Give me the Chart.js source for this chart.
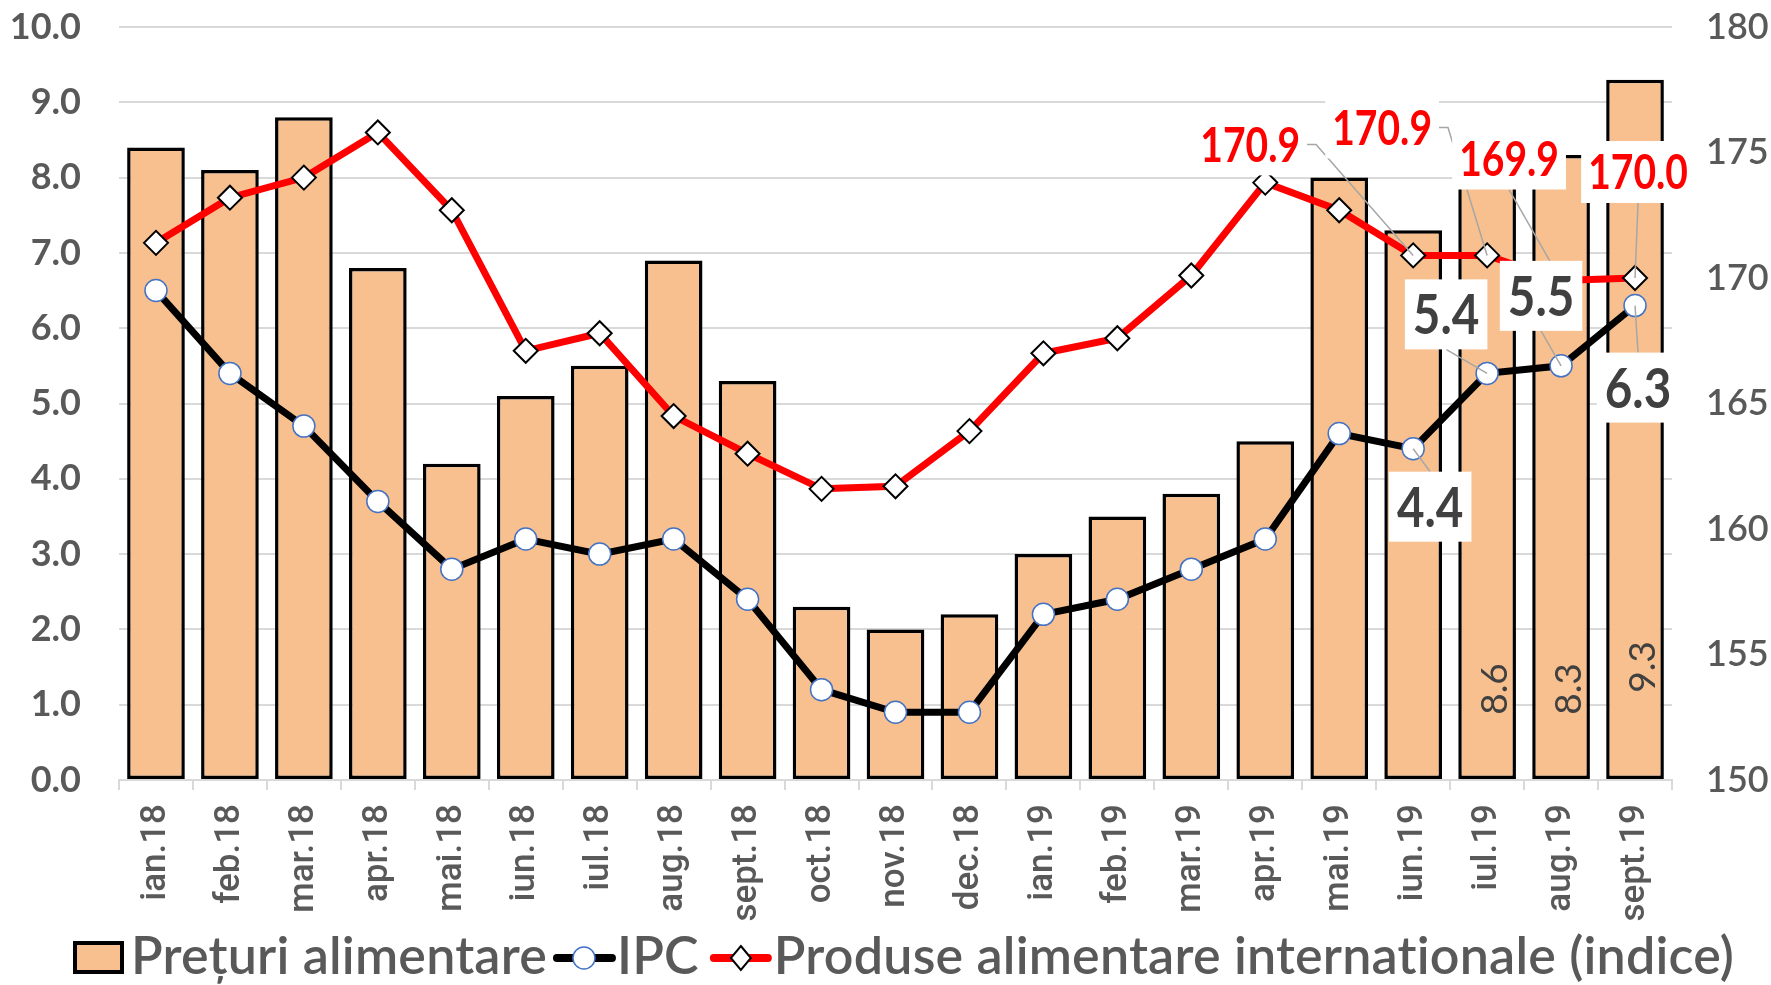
<!DOCTYPE html>
<html><head><meta charset="utf-8">
<script src="https://cdn.jsdelivr.net/npm/chart.js@4.4.1/dist/chart.umd.min.js"></script>
<style>html,body{margin:0;padding:0;background:#fff;overflow:hidden}#wrap{width:1771px;height:985px}</style>
</head><body><div id="wrap"><canvas id="c" width="1771" height="985"></canvas></div>
<script>
// ---------- data ----------
const categories = ['ian.18','feb.18','mar.18','apr.18','mai.18','iun.18','iul.18','aug.18','sept.18','oct.18','nov.18','dec.18','ian.19','feb.19','mar.19','apr.19','mai.19','iun.19','iul.19','aug.19','sept.19'];
const seriesNames = ['Prețuri alimentare','IPC','Produse alimentare internationale (indice)'];
const foodPrices = [8.4,8.1,8.8,6.8,4.2,5.1,5.5,6.9,5.3,2.3,2.0,2.2,3.0,3.5,3.8,4.5,8.0,7.3,8.6,8.3,9.3];
const cpi = [6.5,5.4,4.7,3.7,2.8,3.2,3.0,3.2,2.4,1.2,0.9,0.9,2.2,2.4,2.8,3.2,4.6,4.4,5.4,5.5,6.3];
const intlFoodIndex = [171.4,173.2,174.0,175.8,172.7,167.1,167.8,164.5,163.0,161.6,161.7,163.9,167.0,167.6,170.1,173.8,172.7,170.9,170.9,169.9,170.0];
const leftAxisRange = [0, 10, 1];
const rightAxisRange = [150, 180, 5];
const labelledBars = [18, 19, 20];
const labelledCpi = [17, 18, 19, 20];
const labelledIntl = [17, 18, 19, 20];

const FONT = 'Lato, "Liberation Sans", sans-serif';
const GREY = '#595959';
const BAR_FILL = '#F8C08E';

// ---------- label plugin ----------
const labelPlugin = {
  id: 'customLabels',
  afterDatasetsDraw(chart, args, opts) {
    const ctx = chart.ctx;
    const barMeta = chart.getDatasetMeta(0);
    opts.bars.forEach(b => {
      const el = barMeta.data[b.index];
      const val = chart.data.datasets[0].data[b.index];
      ctx.save();
      ctx.translate(el.x + b.dx, el.base - b.rise);
      ctx.rotate(-Math.PI / 2);
      ctx.font = opts.barFont;
      ctx.fillStyle = '#404040';
      ctx.textAlign = 'center';
      ctx.textBaseline = 'middle';
      ctx.fillText(val.toFixed(1), 0, 0);
      ctx.restore();
    });
    const items = opts.points.map(p => {
      const ds = chart.data.datasets[p.dataset];
      const el = chart.getDatasetMeta(p.dataset).data[p.index];
      const text = ds.data[p.index].toFixed(1);
      ctx.font = p.font;
      const w = ctx.measureText(text).width * p.scaleX;
      const cx = el.x + p.dx, cy = el.y + p.dy;
      const bw = w + 2 * p.padX, bh = p.boxH;
      return {text, font: p.font, color: p.color, sx: p.scaleX, cx, cy, px: el.x, py: el.y,
        l: cx - bw / 2, r: cx + bw / 2, t: cy - bh / 2, b: cy + bh / 2};
    });
    ctx.save();
    ctx.strokeStyle = '#A6A6A6';
    ctx.lineWidth = 1.5;
    items.forEach(it => {
      ctx.beginPath();
      if (it.px > it.r + 15) {
        ctx.moveTo(it.r, it.cy); ctx.lineTo(it.r + 9, it.cy); ctx.lineTo(it.px, it.py);
      } else if (it.px < it.l - 15) {
        ctx.moveTo(it.l, it.cy); ctx.lineTo(it.l - 9, it.cy); ctx.lineTo(it.px, it.py);
      } else if (it.py > it.b) {
        ctx.moveTo(it.cx, it.b); ctx.lineTo(it.px, it.py);
      } else {
        ctx.moveTo(it.cx, it.t); ctx.lineTo(it.px, it.py);
      }
      ctx.stroke();
    });
    ctx.restore();
    items.forEach(it => {
      ctx.save();
      ctx.fillStyle = '#FFFFFF';
      ctx.fillRect(it.l, it.t, it.r - it.l, it.b - it.t);
      ctx.translate(it.cx, it.cy + 2);
      ctx.scale(it.sx, 1);
      ctx.font = it.font;
      ctx.fillStyle = it.color;
      ctx.textAlign = 'center';
      ctx.textBaseline = 'middle';
      ctx.fillText(it.text, 0, 0);
      ctx.restore();
    });
  }
};

// ---------- legend plugin ----------
const legendPlugin = {
  id: 'customLegend',
  afterDraw(chart, args, opts) {
    const ctx = chart.ctx;
    const names = chart.data.datasets.map(d => d.label);
    const base = opts.baseline, mid = opts.mid;
    let x = opts.x;
    ctx.save();
    ctx.font = opts.font;
    if ('letterSpacing' in ctx) ctx.letterSpacing = '0.2px';
    ctx.textBaseline = 'alphabetic';
    ctx.textAlign = 'left';
    ctx.fillStyle = BAR_FILL;
    ctx.fillRect(x, base - 33, 51, 33);
    ctx.strokeStyle = '#000'; ctx.lineWidth = 4;
    ctx.strokeRect(x + 2, base - 31, 47, 29);
    x += 51 + 7;
    ctx.fillStyle = GREY;
    ctx.fillText(names[0], x, base);
    x += ctx.measureText(names[0]).width + 6;
    ctx.lineCap = 'round';
    ctx.strokeStyle = '#000'; ctx.lineWidth = 8;
    ctx.beginPath(); ctx.moveTo(x + 4, mid); ctx.lineTo(x + 59, mid); ctx.stroke();
    ctx.beginPath(); ctx.arc(x + 31, mid, 11, 0, Math.PI * 2);
    ctx.fillStyle = '#fff'; ctx.fill();
    ctx.strokeStyle = '#4472C4'; ctx.lineWidth = 1.5; ctx.stroke();
    x += 64;
    ctx.fillStyle = GREY;
    ctx.fillText(names[1], x, base);
    x += ctx.measureText(names[1]).width + 11;
    ctx.strokeStyle = '#FF0000'; ctx.lineWidth = 8;
    ctx.beginPath(); ctx.moveTo(x + 4, mid); ctx.lineTo(x + 58, mid); ctx.stroke();
    const dx = x + 31;
    ctx.beginPath();
    ctx.moveTo(dx, mid - 12); ctx.lineTo(dx + 10, mid); ctx.lineTo(dx, mid + 12); ctx.lineTo(dx - 10, mid); ctx.closePath();
    ctx.fillStyle = '#fff'; ctx.fill();
    ctx.strokeStyle = '#000'; ctx.lineWidth = 2; ctx.stroke();
    x += 64;
    ctx.fillStyle = GREY;
    ctx.fillText(names[2], x, base);
    ctx.restore();
  }
};

const redFont = 'bold 47px ' + FONT;
const cpiFont = 'bold 56px ' + FONT;
const intlOffsets = [[-163,-111],[-105,-128],[-52,-122],[3,-106]];
const cpiOffsets = [[17,58],[-41,-59],[-20,-70],[3,82]];

const pointLabels = [];
labelledIntl.forEach((idx, k) => pointLabels.push({dataset: 2, index: idx, dx: intlOffsets[k][0], dy: intlOffsets[k][1], font: redFont, color: '#FF0000', scaleX: 0.83, padX: 7, boxH: 62}));
labelledCpi.forEach((idx, k) => pointLabels.push({dataset: 1, index: idx, dx: cpiOffsets[k][0], dy: cpiOffsets[k][1], font: cpiFont, color: '#404040', scaleX: 0.85, padX: 8, boxH: 70}));
const barLabelRise = [90, 90, 112];

new Chart(document.getElementById('c').getContext('2d'), {
  type: 'bar',
  data: {
    labels: categories,
    datasets: [
      {type: 'bar', label: seriesNames[0], data: foodPrices, yAxisID: 'y', backgroundColor: BAR_FILL,
        borderColor: '#000', borderWidth: 3.5, borderSkipped: false, barPercentage: 0.78, categoryPercentage: 1, order: 3},
      {type: 'line', label: seriesNames[1], data: cpi, yAxisID: 'y', borderColor: '#000', borderWidth: 7,
        pointStyle: 'circle', pointRadius: 11, pointBackgroundColor: '#fff', pointBorderColor: '#4472C4',
        pointBorderWidth: 1.5, tension: 0, order: 1},
      {type: 'line', label: seriesNames[2], data: intlFoodIndex, yAxisID: 'y2', borderColor: '#FF0000', borderWidth: 7,
        pointStyle: 'rectRot', pointRadius: 12, pointBackgroundColor: '#fff', pointBorderColor: '#000',
        pointBorderWidth: 2, tension: 0, order: 2}
    ]
  },
  options: {
    responsive: false,
    animation: false,
    devicePixelRatio: 1,
    layout: {padding: {top: 27, bottom: 60, left: 0, right: 0}},
    plugins: {
      legend: {display: false},
      tooltip: {enabled: false},
      customLabels: {
        bars: labelledBars.map((idx, k) => ({index: idx, dx: 8, rise: barLabelRise[k]})),
        barFont: '37px ' + FONT,
        points: pointLabels
      },
      customLegend: {x: 73, baseline: 974, mid: 958, font: '600 52px ' + FONT}
    },
    scales: {
      x: {
        offset: true,
        grid: {display: true, drawOnChartArea: false, drawTicks: true, tickLength: 10, color: '#D9D9D9', lineWidth: 2, offset: true},
        border: {display: true, color: '#D9D9D9', width: 2},
        ticks: {autoSkip: false, minRotation: 90, maxRotation: 90, padding: 14, color: GREY,
          font: {family: 'Roboto, sans-serif', size: 35, weight: '500'}},
        afterFit(s) { s.height = 145; }
      },
      y: {
        position: 'left',
        min: leftAxisRange[0], max: leftAxisRange[1],
        ticks: {stepSize: leftAxisRange[2], callback: v => Number(v).toFixed(1), color: GREY, padding: 0,
          font: {family: FONT, size: 36, weight: 'bold'}},
        grid: {color: '#D9D9D9', lineWidth: 2, drawTicks: true, tickLength: 38, tickColor: 'rgba(0,0,0,0)'},
        border: {display: false},
        afterFit(s) { s.width = 119; }
      },
      y2: {
        position: 'right',
        min: rightAxisRange[0], max: rightAxisRange[1],
        ticks: {stepSize: rightAxisRange[2], color: GREY, padding: 0,
          font: {family: FONT, size: 36, weight: '600'}},
        grid: {drawOnChartArea: false, drawTicks: true, tickLength: 34, tickColor: 'rgba(0,0,0,0)'},
        border: {display: false},
        afterFit(s) { s.width = 99; }
      }
    }
  },
  plugins: [labelPlugin, legendPlugin]
});
</script>
</body></html>
